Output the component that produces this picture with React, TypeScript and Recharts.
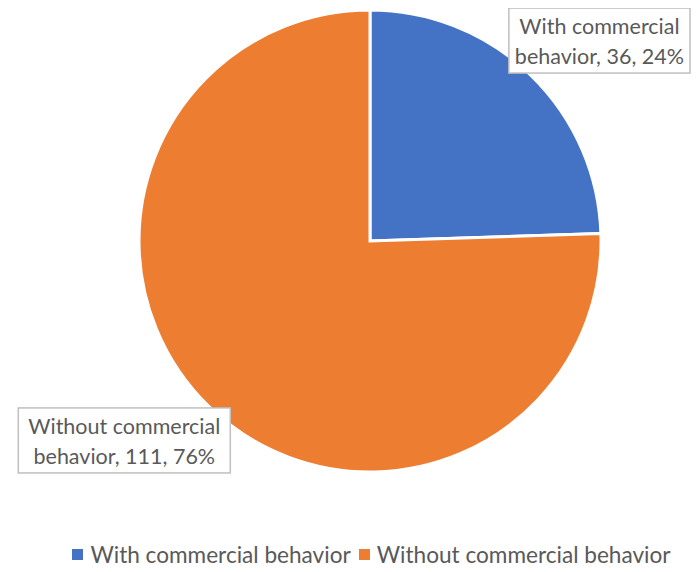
import React from 'react';
import { PieChart, Pie, Cell, Legend } from 'recharts';

const categories = ['With commercial behavior', 'Without commercial behavior'];
const values = [36, 111];
const colors = ['#4472C4', '#ED7D31'];

const data = categories.map((name, i) => ({ name, value: values[i] }));
const total = values.reduce((a, b) => a + b, 0);

const FONT = 'Lato, "Open Sans", sans-serif';
const FS = 22.6;
const LFS = 21.5;
const TEXT = '#595959';
const CHART_W = 683;

let ctx: CanvasRenderingContext2D | null = null;
function measure(text: string): number {
  if (!ctx) ctx = document.createElement('canvas').getContext('2d');
  if (!ctx) return text.length * LFS * 0.5;
  ctx.font = `${LFS}px ${FONT}`;
  return ctx.measureText(text).width;
}

const RAD = Math.PI / 180;

const renderLabel = (props: any) => {
  const { cx, cy, midAngle, outerRadius, name, value } = props;
  const ex = cx + outerRadius * Math.cos(-midAngle * RAD);
  const ey = cy + outerRadius * Math.sin(-midAngle * RAD);
  const cut = name.lastIndexOf(' ');
  const pct = Math.round((value / total) * 100);
  const lines = [name.slice(0, cut), `${name.slice(cut + 1)}, ${value}, ${pct}%`];
  const right = Math.cos(-midAngle * RAD) > 0;
  const w = Math.max(...lines.map(measure)) + (right ? 12 : 20);
  const h = 65;
  const x = right ? Math.min(ex - 16, CHART_W - 1 - w) : ex + 21 - w;
  const y = right ? ey - 2 - h : ey + 1;
  return (
    <g>
      <rect x={x} y={y} width={w} height={h} fill="#fff" stroke="#BFBFBF" strokeWidth={1.5} />
      {lines.map((l, i) => (
        <text
          key={i}
          x={x + w / 2}
          y={y + 26 + i * 30}
          textAnchor="middle"
          fill={TEXT}
          fontSize={LFS}
          fontFamily={FONT}
        >
          {l}
        </text>
      ))}
    </g>
  );
};

const LegendContent = () => (
  <div
    style={{
      display: 'flex',
      justifyContent: 'center',
      alignItems: 'center',
      fontFamily: FONT,
      fontSize: FS,
      color: TEXT,
      paddingLeft: 44,
      whiteSpace: 'nowrap',
    }}
  >
    {categories.map((c, i) => (
      <span key={c} style={{ display: 'inline-flex', alignItems: 'center', marginRight: i === 0 ? 8 : 0 }}>
        <span style={{ width: 11, height: 11, background: colors[i], display: 'inline-block', marginRight: 7 }} />
        {c}
      </span>
    ))}
  </div>
);

export default function App() {
  return (
    <PieChart width={CHART_W} height={556} margin={{ top: 0, right: 0, bottom: 0, left: 0 }}>
      <Pie
        data={data}
        dataKey="value"
        nameKey="name"
        cx={362}
        cy={233}
        outerRadius={231}
        startAngle={90}
        endAngle={-270}
        stroke="#fff"
        strokeWidth={3}
        label={renderLabel}
        labelLine={false}
        isAnimationActive={false}
      >
        {data.map((d, i) => (
          <Cell key={d.name} fill={colors[i]} />
        ))}
      </Pie>
      <Legend content={<LegendContent />} wrapperStyle={{ top: 533, left: 0, width: CHART_W }} />
    </PieChart>
  );
}
